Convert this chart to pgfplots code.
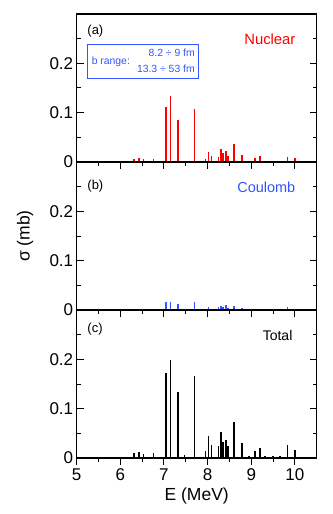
\documentclass[border=0pt]{standalone}
\usepackage{fontspec}
\setmainfont{Liberation Sans}
\usepackage{pgfplots}
\usepackage{pgfplotstable}
\pgfplotsset{compat=1.18}

\definecolor{cblue}{rgb}{0.2,0.33,1}

\pgfplotstableread{
E sigma
5.82 0.002
6.32 0.006
6.42 0.008
6.53 0.006
6.76 0.006
7.05 0.111
7.15 0.134
7.32 0.085
7.47 0.003
7.70 0.107
7.95 0.006
8.02 0.021
8.09 0.013
8.25 0.011
8.30 0.026
8.36 0.019
8.42 0.023
8.47 0.013
8.60 0.037
8.79 0.015
8.95 0.002
9.08 0.008
9.20 0.013
9.31 0.003
9.49 0.003
9.65 0.003
9.83 0.010
10.00 0.009
}\nuclear

\pgfplotstableread{
E sigma
7.05 0.017
7.15 0.017
7.32 0.012
7.70 0.016
7.95 0.003
8.02 0.007
8.25 0.007
8.30 0.009
8.36 0.007
8.42 0.010
8.47 0.004
8.60 0.008
8.79 0.004
9.08 0.002
9.20 0.002
9.49 0.002
9.83 0.006
}\coulomb

\pgfplotstableread{
E sigma
5.82 0.003
6.32 0.0095
6.42 0.0115
6.53 0.009
6.76 0.010
7.05 0.172
7.15 0.199
7.32 0.134
7.47 0.007
7.70 0.166
7.95 0.014
8.02 0.044
8.09 0.026
8.25 0.024
8.30 0.053
8.36 0.032
8.42 0.036
8.47 0.025
8.60 0.072
8.79 0.030
8.95 0.004
9.08 0.014
9.20 0.020
9.31 0.005
9.49 0.005
9.55 0.003
9.65 0.004
9.83 0.027
10.00 0.016
}\total

\pgfplotsset{
  panel/.style={
    width=240pt, height=148pt, scale only axis,
    xmin=5, xmax=10.5, ymin=0, ymax=0.3,
    xtick={5,6,7,8,9,10}, minor x tick num=1,
    ytick={0,0.1,0.2}, yticklabels={0,0.1,0.2},
    minor ytick={0.05,0.15,0.25},
    xtick pos=left, ytick pos=both,
    xtick align=outside, ytick align=inside,
    major tick length=7pt, minor tick length=4pt,
    every tick/.style={black, line width=1pt},
    axis line style={line width=1.2pt},
    tick label style={font=\fontsize{17}{20}\selectfont},
    /pgf/number format/assume math mode=true,
  },
  bars/.style={ycomb, no markers, line width=1.8pt},
}

\begin{document}
\begin{tikzpicture}
\begin{axis}[panel, name=a, xticklabels={}]
\addplot[bars, red] table[x=E, y=sigma] {\nuclear};
\node[font=\fontsize{13}{15}\selectfont, anchor=west] at (rel axis cs:0.03,0.885) {(a)};
\node[font=\fontsize{14.8}{17}\selectfont, text=red] at (rel axis cs:0.805,0.83) {Nuclear};
\node[draw=cblue, line width=1pt, anchor=north west, inner sep=0pt,
      minimum width=111pt, minimum height=34pt,
      font=\fontsize{10.4}{12}\selectfont, text=cblue] at (rel axis cs:0.044,0.795)
  {\makebox[103pt]{b range:\hfill\begin{tabular}{@{}r@{}}8.2 ÷ 9 fm\\[4pt]13.3 ÷ 53 fm\end{tabular}}};
\end{axis}

\begin{axis}[panel, name=b, at={(a.south west)}, anchor=north west, xticklabels={},
  ylabel={σ (mb)},
  ylabel style={at={(axis description cs:-0.215,0.5)}, anchor=center,
                font=\fontsize{17.5}{20}\selectfont}]
\addplot[bars, cblue] table[x=E, y=sigma] {\coulomb};
\node[font=\fontsize{13}{15}\selectfont, anchor=west] at (rel axis cs:0.03,0.84) {(b)};
\node[font=\fontsize{14.5}{17}\selectfont, text=cblue] at (rel axis cs:0.79,0.83) {Coulomb};
\end{axis}

\begin{axis}[panel, name=c, at={(b.south west)}, anchor=north west,
  xlabel={E (MeV)},
  xlabel style={font=\fontsize{17.5}{20}\selectfont}]
\addplot[bars, black] table[x=E, y=sigma] {\total};
\node[font=\fontsize{13}{15}\selectfont, anchor=west] at (rel axis cs:0.03,0.87) {(c)};
\node[font=\fontsize{14}{17}\selectfont] at (rel axis cs:0.837,0.83) {Total};
\end{axis}

\path (a.north west) ++(-76.7pt,14pt) rectangle ++(332pt,-514pt);
\end{tikzpicture}
\end{document}
